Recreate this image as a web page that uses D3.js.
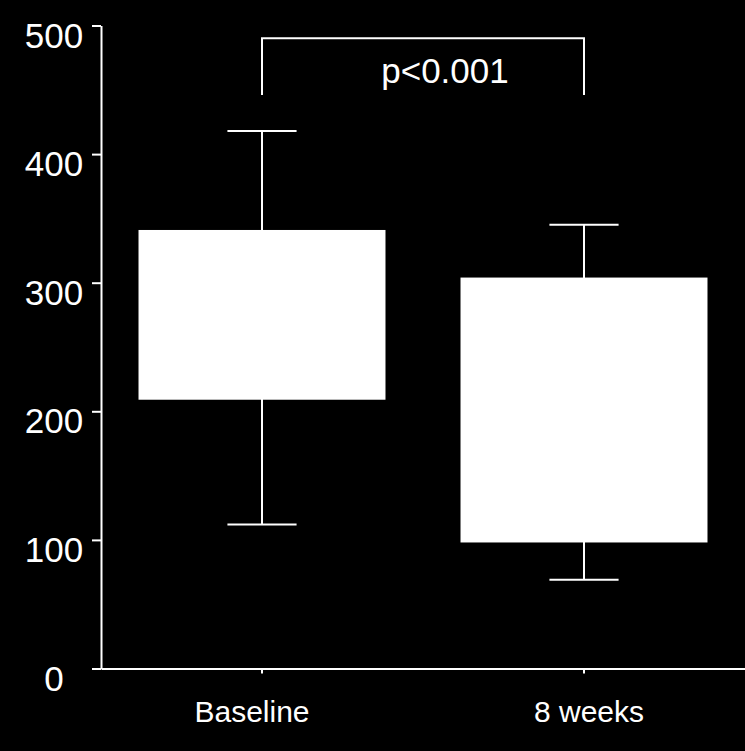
<!DOCTYPE html>
<html>
<head>
<meta charset="utf-8">
<script src="https://cdn.jsdelivr.net/npm/d3@7"></script>
<style>
  html, body { margin: 0; padding: 0; background: #000; }
  svg { display: block; }
  text { font-family: "Liberation Sans", Arial, sans-serif; fill: #fff; }
</style>
</head>
<body>
<svg id="chart" width="745" height="751"></svg>
<script>
// ---- data ----
const categories = ["Baseline", "8 weeks"];
const whiskerLow  = [112, 69];
const boxQ1       = [209, 98];
const boxQ3       = [341, 304];
const whiskerHigh = [418, 345];
const yTicks = [0, 100, 200, 300, 400, 500];
const pLabel = "p<0.001";
const bracketTop = 490;
const bracketLeg = 446;

// ---- chart ----
const W = 745, H = 751;
const svg = d3.select("#chart");
svg.append("rect").attr("width", W).attr("height", H).attr("fill", "#000");

const y = d3.scaleLinear().domain([0, 500]).range([668.5, 25.5]);
const x = d3.scaleBand().domain(categories).range([101, 745])
  .paddingInner(0.233).paddingOuter(0.1165).align(0.5);
const cx = c => x(c) + x.bandwidth() / 2;
const capHalf = x.bandwidth() * 0.14;

const data = categories.map((c, i) => ({
  c, lo: whiskerLow[i], q1: boxQ1[i], q3: boxQ3[i], hi: whiskerHigh[i]
}));

// whiskers
const g = svg.append("g");
data.forEach(d => {
  const xc = cx(d.c);
  g.append("line").attr("x1", xc).attr("x2", xc).attr("y1", y(d.hi)).attr("y2", y(d.lo))
    .attr("stroke", "#fff").attr("stroke-width", 2);
  [d.hi, d.lo].forEach(v => {
    g.append("line").attr("x1", xc - capHalf).attr("x2", xc + capHalf)
      .attr("y1", y(v)).attr("y2", y(v))
      .attr("stroke", "#fff").attr("stroke-width", 2);
  });
});

// boxes
g.selectAll("rect.box").data(data).join("rect")
  .attr("class", "box")
  .attr("x", d => x(d.c))
  .attr("width", x.bandwidth())
  .attr("y", d => y(d.q3))
  .attr("height", d => y(d.q1) - y(d.q3))
  .attr("fill", "#fff");

// y axis
const yAxis = svg.append("g").attr("transform", "translate(101,0)")
  .call(d3.axisLeft(y).tickValues(yTicks).tickSize(9).tickSizeOuter(0));
yAxis.select(".domain").attr("stroke", "#fff").attr("stroke-width", 2);
yAxis.selectAll(".tick line").attr("stroke", "#fff").attr("stroke-width", 2);
yAxis.selectAll(".tick text")
  .attr("x", -47).attr("dy", 21.5).attr("text-anchor", "middle")
  .style("font-size", "35px").style("fill", "#fff");

// x axis
const xAxis = svg.append("g").attr("transform", "translate(0,668.5)")
  .call(d3.axisBottom(x).tickSize(5).tickSizeOuter(0));
xAxis.select(".domain").attr("stroke", "#fff").attr("stroke-width", 2);
xAxis.selectAll(".tick line").attr("stroke", "#fff").attr("stroke-width", 2);
xAxis.selectAll(".tick text")
  .attr("y", 53.5).attr("dy", 0)
  .attr("dx", (d, i) => i === 0 ? -10 : 5)
  .style("font-size", "30px").style("fill", "#fff");

// significance bracket
const x1 = cx(categories[0]), x2 = cx(categories[1]);
svg.append("path")
  .attr("d", `M${x1},${y(bracketLeg)}V${y(bracketTop)}H${x2}V${y(bracketLeg)}`)
  .attr("fill", "none").attr("stroke", "#fff").attr("stroke-width", 2);
svg.append("text")
  .attr("x", (x1 + x2) / 2 + 22).attr("y", 83.3)
  .attr("text-anchor", "middle")
  .style("font-size", "35px")
  .text(pLabel);
</script>
</body>
</html>
